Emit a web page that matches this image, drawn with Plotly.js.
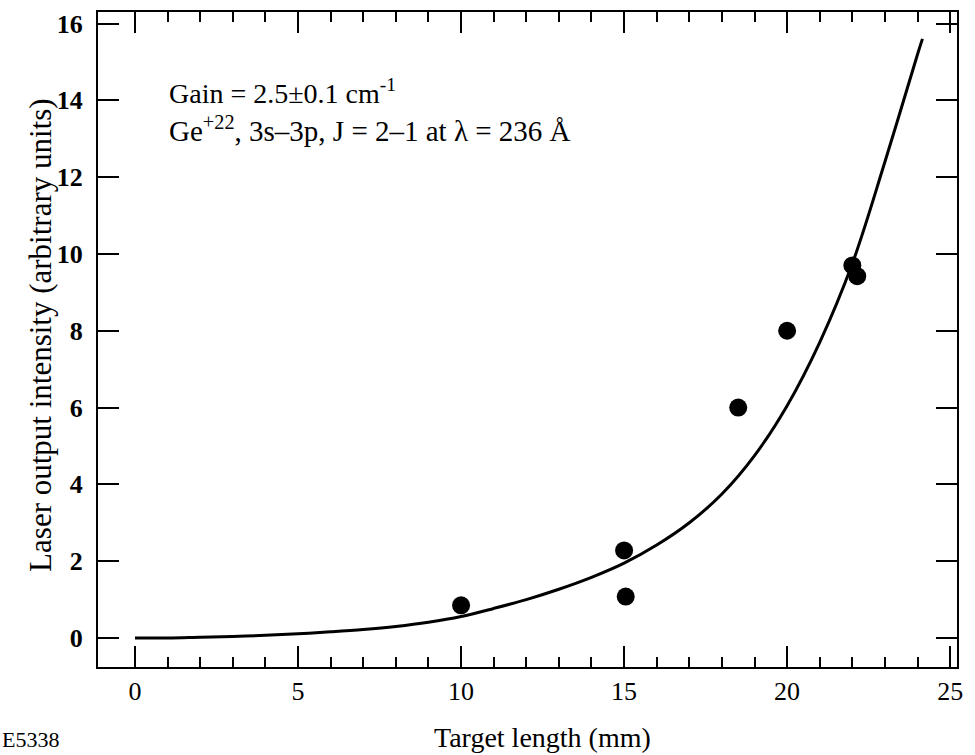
<!DOCTYPE html>
<html>
<head>
<meta charset="utf-8">
<script src="https://cdn.plot.ly/plotly-3.0.1.min.js"></script>
<style>html,body{margin:0;padding:0;background:#fff;}#chart{width:975px;height:755px;}</style>
</head>
<body>
<div id="chart"></div>
<script>
// Measured data points (target length mm, intensity a.u.)
const pointX = [10.0, 15.0, 15.05, 18.5, 20.0, 22.0, 22.15];
const pointY = [0.85, 2.28, 1.08, 6.0, 8.0, 9.7, 9.42];

// Fitted gain curve
const curveX = [0, 1, 2, 3, 4, 5, 6, 7, 8, 9, 10, 11, 12, 13, 14, 15, 16, 17, 18, 19, 20, 21, 22, 23, 24, 24.15];
const curveY = [0.0, 0.0, 0.02, 0.04, 0.07, 0.11, 0.16, 0.22, 0.30, 0.41, 0.56, 0.77, 1.0, 1.27, 1.58, 1.95, 2.42, 3.0, 3.75, 4.75, 6.05, 7.7, 9.75, 12.4, 15.2, 15.6];

const xTickVals = [0, 5, 10, 15, 20, 25];
const xTickText = ['0', '5', '10', '15', '20', '25'];
const xMinorVals = [0,1,2,3,4,5,6,7,8,9,10,11,12,13,14,15,16,17,18,19,20,21,22,23,24];
const yTickVals = [0, 2, 4, 6, 8, 10, 12, 14, 16];
const yTickText = ['0', '2', '4', '6', '8', '10', '12', '14', '16'];

const serif = 'Liberation Serif';

const traces = [
  {
    x: curveX, y: curveY, type: 'scatter', mode: 'lines',
    line: {color: '#000', width: 3, shape: 'spline', smoothing: 1},
    hoverinfo: 'skip', showlegend: false
  },
  {
    x: pointX, y: pointY, type: 'scatter', mode: 'markers',
    marker: {color: '#000', size: 18},
    showlegend: false
  }
];

const layout = {
  width: 975, height: 755,
  margin: {l: 98, r: 18, t: 12, b: 88},
  paper_bgcolor: '#fff', plot_bgcolor: '#fff',
  font: {family: serif, color: '#000', size: 25},
  showlegend: false,
  xaxis: {
    range: [-1.135, 25.21],
    tickmode: 'array', tickvals: xTickVals, ticktext: xTickText,
    ticks: 'inside', ticklen: 21, tickwidth: 2, tickcolor: '#000',
    minor: {tickmode: 'array', tickvals: xMinorVals, ticks: 'inside', ticklen: 10, tickwidth: 2, tickcolor: '#000', showgrid: false},
    showline: true, linewidth: 2, linecolor: '#000', mirror: 'ticks',
    showgrid: false, zeroline: false,
    tickfont: {family: serif, size: 26, color: '#000'},
    ticklabelstandoff: 0
  },
  yaxis: {
    range: [-0.755, 16.3],
    tickmode: 'array', tickvals: yTickVals, ticktext: yTickText,
    ticks: 'inside', ticklen: 21, tickwidth: 2, tickcolor: '#000',
    showline: true, linewidth: 2, linecolor: '#000', mirror: 'ticks',
    showgrid: false, zeroline: false,
    tickfont: {family: serif, size: 26, color: '#000', weight: 'bold'},
    ticklabelstandoff: 8
  },
  annotations: [
    {
      text: 'Gain = 2.5±0.1 cm<sup>-1</sup>',
      xref: 'paper', yref: 'paper', x: 0.0803, y: 0.879,
      xanchor: 'left', yanchor: 'middle', showarrow: false,
      font: {family: serif, size: 28, color: '#000'}
    },
    {
      text: 'Ge<sup>+22</sup>, 3s–3p, J = 2–1 at λ = 236 Å',
      xref: 'paper', yref: 'paper', x: 0.0803, y: 0.821,
      xanchor: 'left', yanchor: 'middle', showarrow: false,
      font: {family: serif, size: 29, color: '#000'}
    },
    {
      text: 'Target length (mm)',
      xref: 'paper', yref: 'paper', x: 0.518, y: -0.108,
      xanchor: 'center', yanchor: 'middle', showarrow: false,
      font: {family: serif, size: 28, color: '#000'}
    },
    {
      text: 'Laser output intensity (arbitrary units)',
      xref: 'paper', yref: 'paper', x: -0.0664, y: 0.507, textangle: -90,
      xanchor: 'center', yanchor: 'middle', showarrow: false,
      font: {family: serif, size: 31, color: '#000'}
    },
    {
      text: 'E5338',
      xref: 'paper', yref: 'paper', x: -0.114, y: -0.1325,
      xanchor: 'left', yanchor: 'bottom', showarrow: false,
      font: {family: serif, size: 22, color: '#000'}
    }
  ]
};

Plotly.newPlot('chart', traces, layout, {displayModeBar: false, staticPlot: true});
</script>
</body>
</html>
